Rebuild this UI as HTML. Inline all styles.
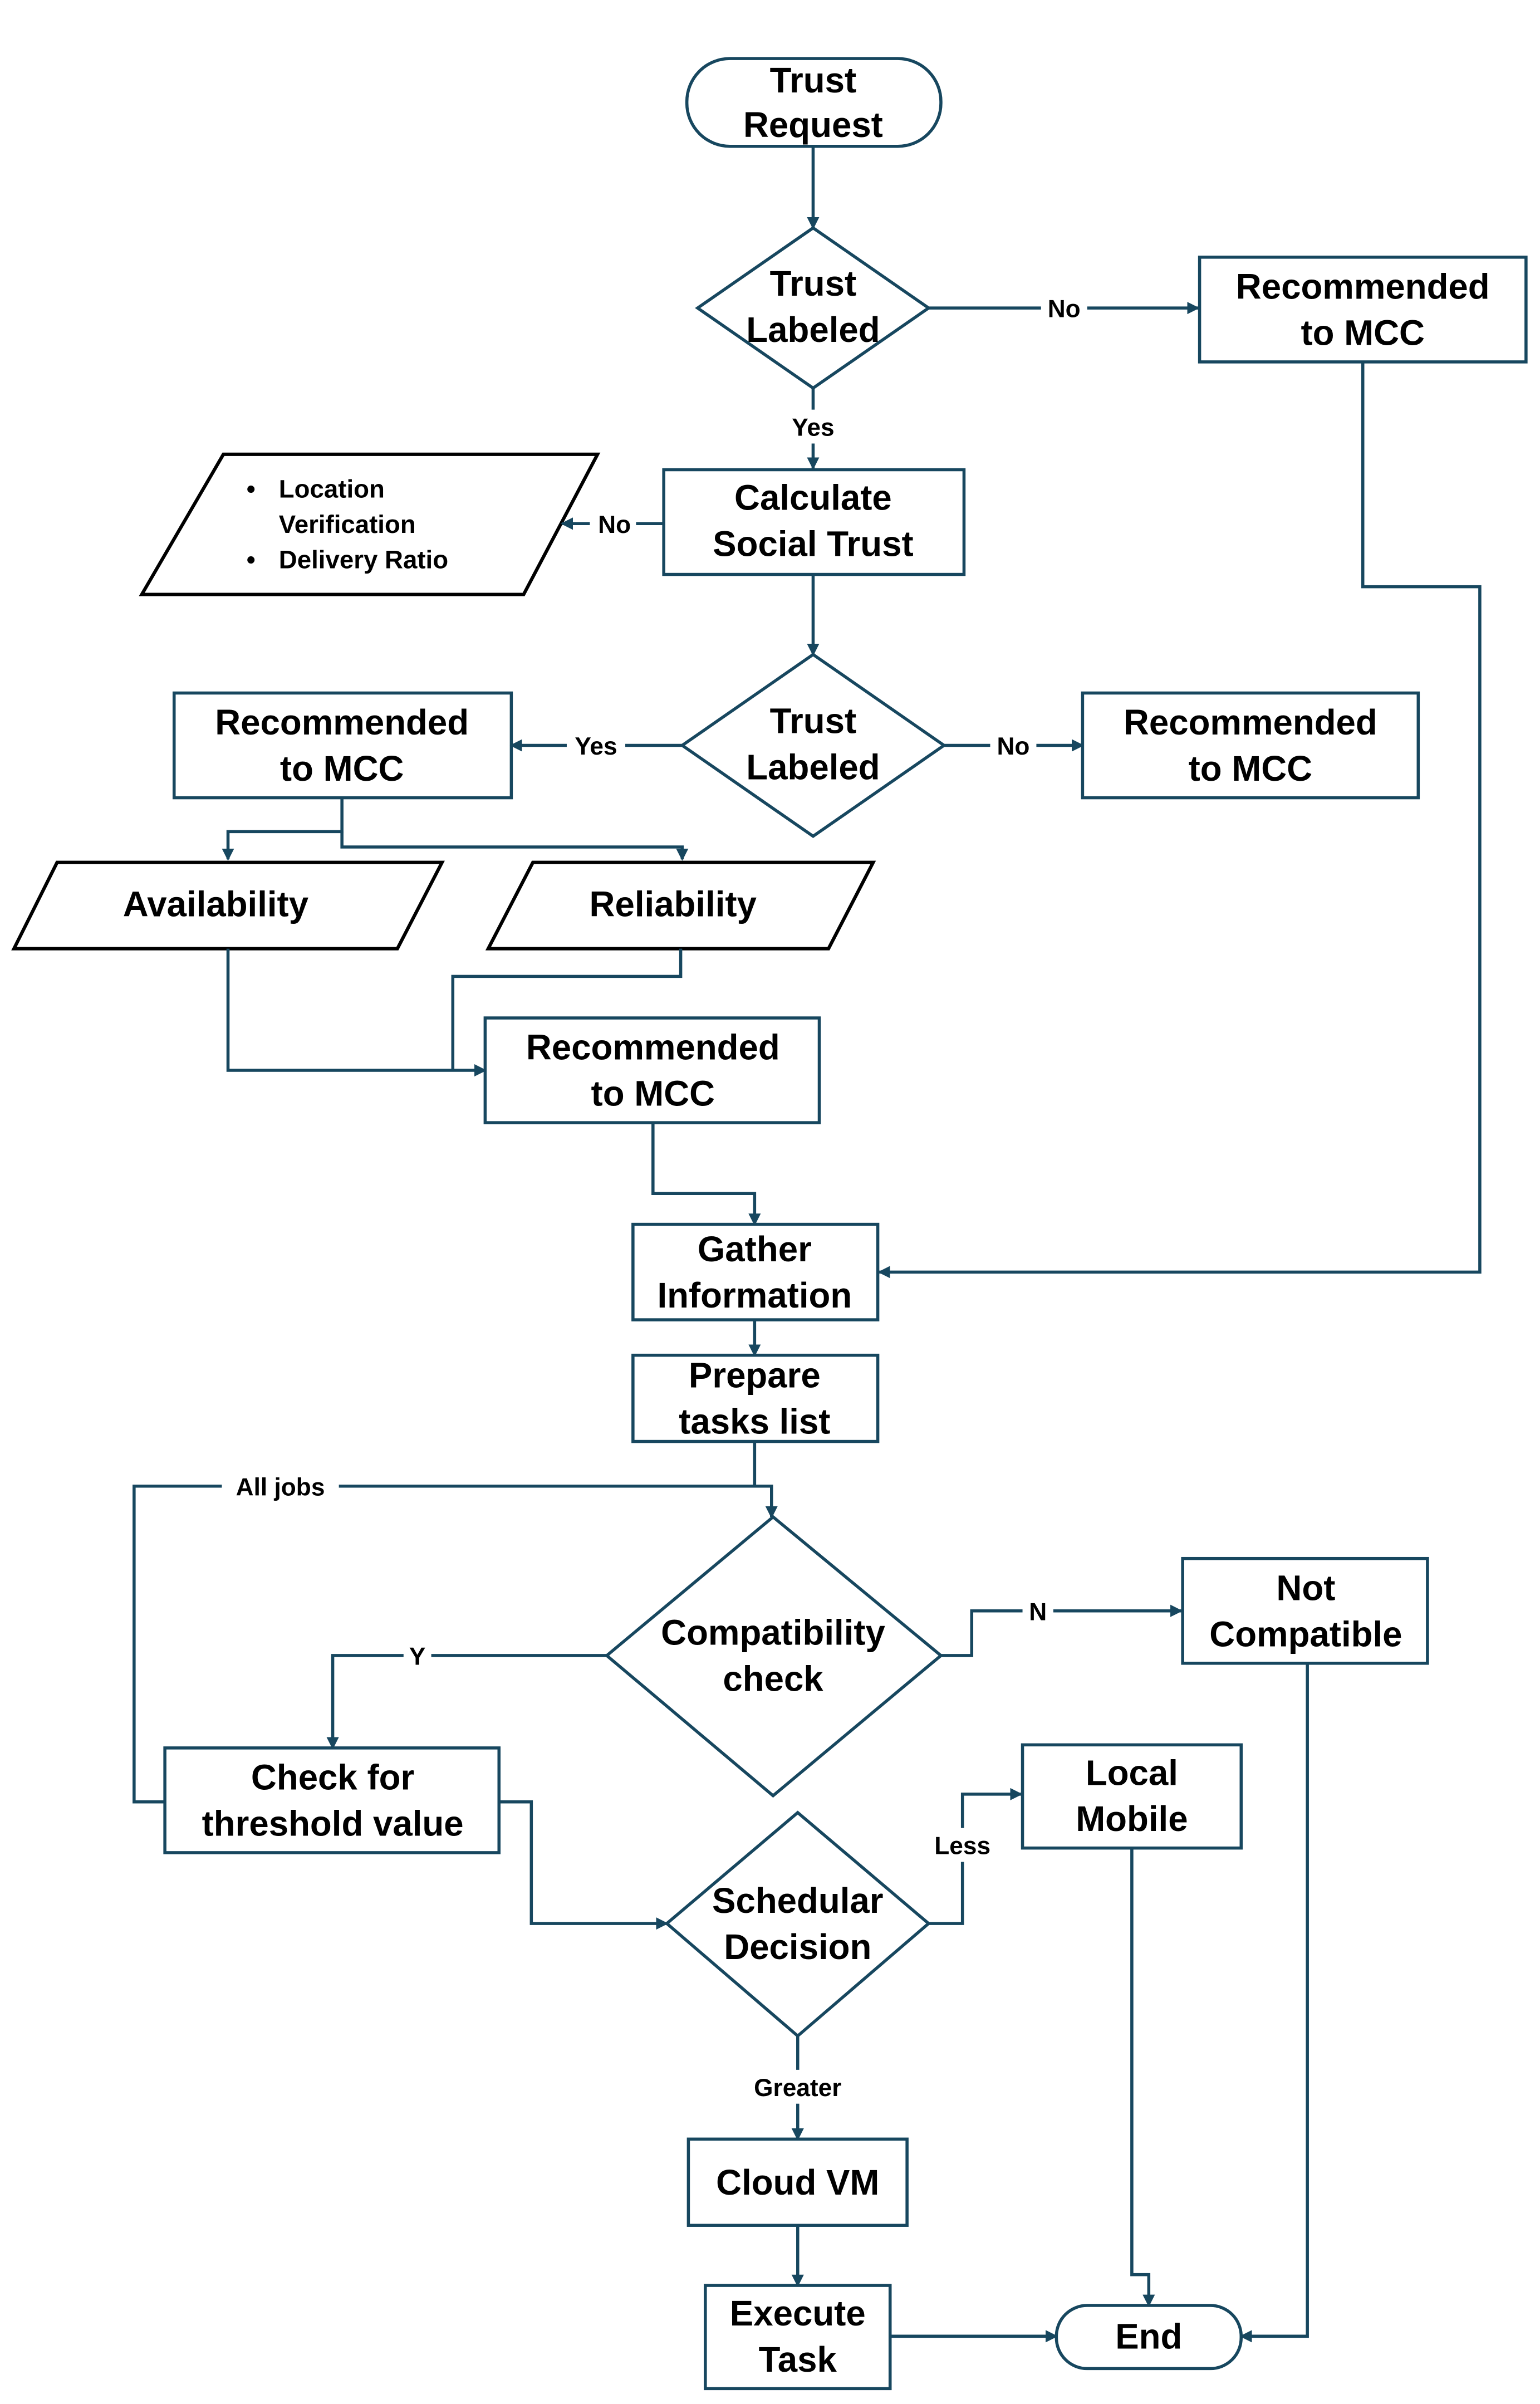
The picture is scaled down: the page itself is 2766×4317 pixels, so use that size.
<!DOCTYPE html>
<html><head><meta charset="utf-8"><style>
html,body{margin:0;padding:0;background:#fff}
svg{display:block}
text{font-family:"Liberation Sans",Arial,sans-serif;font-weight:bold;fill:#000}
.n{font-size:23px;text-anchor:middle}
.l{font-size:16px;text-anchor:middle}
</style></head><body>
<svg width="2766" height="4317" viewBox="0 0 1000 1561" xmlns="http://www.w3.org/2000/svg">
<defs><marker id="a" markerWidth="8" markerHeight="8" refX="7" refY="4" orient="auto" markerUnits="userSpaceOnUse"><path d="M0,0 L8,4 L0,8 z" fill="#17475f"/></marker></defs>
<g fill="#fff" stroke="#17475f" stroke-width="2">
<rect x="446" y="38" width="165" height="57" rx="28"/>
<polygon points="528,148 603,200 528,252 453,200"/>
<rect x="779" y="167" width="212" height="68"/>
<rect x="431" y="305" width="195" height="68"/>
<polygon points="528,425 613,484 528,543 443,484"/>
<rect x="113" y="450" width="219" height="68"/>
<rect x="703" y="450" width="218" height="68"/>
<rect x="315" y="661" width="217" height="68"/>
<rect x="411" y="795" width="159" height="62"/>
<rect x="411" y="880" width="159" height="56"/>
<polygon points="502,985 611,1075 502,1166 394,1075"/>
<rect x="768" y="1012" width="159" height="68"/>
<rect x="107" y="1135" width="217" height="68"/>
<polygon points="518,1177 603,1249 518,1322 433,1249"/>
<rect x="664" y="1133" width="142" height="67"/>
<rect x="447" y="1389" width="142" height="56"/>
<rect x="458" y="1484" width="120" height="67"/>
<rect x="686" y="1497" width="120" height="41" rx="20"/>
</g>
<g fill="#fff" stroke="#000" stroke-width="2.2">
<polygon points="145,295 388,295 340,386 92,386"/>
<polygon points="37,560 287,560 258,616 9,616"/>
<polygon points="346,560 567,560 538,616 317,616"/>
</g>
<g fill="none" stroke="#17475f" stroke-width="2">
<path d="M528,95 V148" marker-end="url(#a)"/>
<path d="M603,200 H778" marker-end="url(#a)"/>
<path d="M885,235 V381 H961 V826 H571" marker-end="url(#a)"/>
<path d="M528,252 V304" marker-end="url(#a)"/>
<path d="M431,340 H365" marker-end="url(#a)"/>
<path d="M528,373 V425" marker-end="url(#a)"/>
<path d="M443,484 H332" marker-end="url(#a)"/>
<path d="M613,484 H703" marker-end="url(#a)"/>
<path d="M222,518 V540 H148 V558" marker-end="url(#a)"/>
<path d="M222,540 V550 H443 V558" marker-end="url(#a)"/>
<path d="M148,616 V695 H315" marker-end="url(#a)"/>
<path d="M442,616 V634 H294 V695"/>
<path d="M424,729 V775 H490 V795" marker-end="url(#a)"/>
<path d="M490,857 V880" marker-end="url(#a)"/>
<path d="M490,936 V965 H501 V985" marker-end="url(#a)"/>
<path d="M107,1170 H87 V965 H501"/>
<path d="M611,1075 H631 V1046 H767" marker-end="url(#a)"/>
<path d="M849,1080 V1517 H806" marker-end="url(#a)"/>
<path d="M394,1075 H216 V1135" marker-end="url(#a)"/>
<path d="M324,1170 H345 V1249 H433" marker-end="url(#a)"/>
<path d="M603,1249 H625 V1165 H663" marker-end="url(#a)"/>
<path d="M735,1200 V1477 H746 V1497" marker-end="url(#a)"/>
<path d="M518,1322 V1389" marker-end="url(#a)"/>
<path d="M518,1445 V1484" marker-end="url(#a)"/>
<path d="M578,1517 H686" marker-end="url(#a)"/>
</g>
<g fill="#fff">
<rect x="676" y="190" width="30" height="20"/>
<rect x="508" y="266" width="40" height="22"/>
<rect x="383" y="330" width="30" height="20"/>
<rect x="368" y="474" width="38" height="20"/>
<rect x="643" y="474" width="30" height="20"/>
<rect x="144" y="955" width="76" height="20"/>
<rect x="664" y="1036" width="20" height="20"/>
<rect x="262" y="1065" width="18" height="20"/>
<rect x="600" y="1187" width="50" height="22"/>
<rect x="480" y="1344" width="76" height="22"/>
</g>
<g class="n">
<text x="528" y="60">Trust</text><text x="528" y="89">Request</text>
<text x="528" y="192">Trust</text><text x="528" y="222">Labeled</text>
<text x="885" y="194">Recommended</text><text x="885" y="224">to MCC</text>
<text x="528" y="331">Calculate</text><text x="528" y="361">Social Trust</text>
<text x="528" y="476">Trust</text><text x="528" y="506">Labeled</text>
<text x="222" y="477">Recommended</text><text x="222" y="507">to MCC</text>
<text x="812" y="477">Recommended</text><text x="812" y="507">to MCC</text>
<text x="140" y="595">Availability</text>
<text x="437" y="595">Reliability</text>
<text x="424" y="688">Recommended</text><text x="424" y="718">to MCC</text>
<text x="490" y="819">Gather</text><text x="490" y="849">Information</text>
<text x="490" y="901">Prepare</text><text x="490" y="931">tasks list</text>
<text x="502" y="1068">Compatibility</text><text x="502" y="1098">check</text>
<text x="848" y="1039">Not</text><text x="848" y="1069">Compatible</text>
<text x="216" y="1162">Check for</text><text x="216" y="1192">threshold value</text>
<text x="518" y="1242">Schedular</text><text x="518" y="1272">Decision</text>
<text x="735" y="1159">Local</text><text x="735" y="1189">Mobile</text>
<text x="518" y="1425">Cloud VM</text>
<text x="518" y="1510">Execute</text><text x="518" y="1540">Task</text>
<text x="746" y="1525">End</text>
</g>
<g class="l">
<text x="691" y="206">No</text>
<text x="528" y="283">Yes</text>
<text x="399" y="346">No</text>
<text x="387" y="490">Yes</text>
<text x="658" y="490">No</text>
<text x="182" y="971">All jobs</text>
<text x="674" y="1052">N</text>
<text x="271" y="1081">Y</text>
<text x="625" y="1204">Less</text>
<text x="518" y="1361">Greater</text>
</g>
<g style="font-size:16.5px">
<text x="160" y="323">•</text><text x="181" y="323">Location</text>
<text x="181" y="346">Verification</text>
<text x="160" y="369">•</text><text x="181" y="369">Delivery Ratio</text>
</g>
</svg>
</body></html>
